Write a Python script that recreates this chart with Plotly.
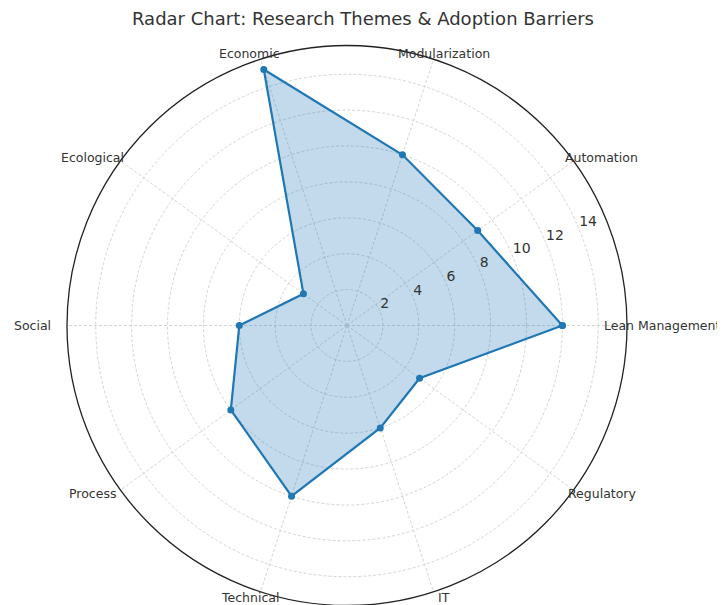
import math
import plotly.graph_objects as go

categories = ["Lean Management", "Automation", "Modularization", "Economic", "Ecological",
              "Social", "Process", "Technical", "IT", "Regulatory"]
values = [12, 9, 10, 15, 3, 6, 8, 10, 6, 5]
radial_ticks = [2, 4, 6, 8, 10, 12, 14]
radial_tick_labels = ["2", "4", "6", "8", "10", "12", "14"]

n = len(categories)
angles = [i * 360.0 / n for i in range(n)]
r_max = 15.6
radial_label_angle = 22.5

W, H = 725, 605
# plot-area geometry (div pixels; page has an 8px body margin)
R = 280
cx, cy = 339, 317.5
# label placement (ellipse radii in px, matplotlib-like placement around outer ring)
lab_rx, lab_ry = 315, 286

fig = go.Figure()

fig.add_trace(go.Scatterpolar(
    r=values + values[:1],
    theta=angles + angles[:1],
    mode="lines+markers",
    fill="toself",
    fillcolor="rgba(31,119,180,0.27)",
    line=dict(color="#1f77b4", width=2.2),
    marker=dict(color="#1f77b4", size=7),
    showlegend=False,
    hoverinfo="skip",
))

# radial tick labels
fig.add_trace(go.Scatterpolar(
    r=radial_ticks,
    theta=[radial_label_angle] * len(radial_ticks),
    mode="text",
    text=radial_tick_labels,
    textposition="top right",
    textfont=dict(family="DejaVu Sans", size=14, color="#333333"),
    showlegend=False,
    hoverinfo="skip",
))

# category labels around the outer ring
annotations = []
for cat, a in zip(categories, angles):
    rad = math.radians(a)
    px = cx + lab_rx * math.cos(rad)
    py = cy - lab_ry * math.sin(rad)
    annotations.append(dict(
        text=cat, xref="paper", yref="paper",
        x=px / W, y=1 - py / H,
        xanchor="center", yanchor="middle",
        showarrow=False,
        font=dict(family="DejaVu Sans", size=12.5, color="#333333"),
    ))

fig.update_layout(
    width=W, height=H,
    margin=dict(l=0, r=0, t=0, b=0),
    paper_bgcolor="white",
    annotations=annotations,
    title=dict(
        text="Radar Chart: Research Themes & Adoption Barriers",
        x=355 / W, xanchor="center",
        y=1 - 11 / H, yanchor="middle",
        font=dict(family="DejaVu Sans", size=18, color="#333333"),
    ),
    polar=dict(
        domain=dict(x=[(cx - R) / W, (cx + R) / W],
                    y=[(H - (cy + R)) / H, (H - (cy - R)) / H]),
        bgcolor="white",
        radialaxis=dict(
            range=[0, r_max],
            tickvals=radial_ticks,
            showticklabels=False,
            ticks="",
            showline=False,
            showgrid=True,
            gridcolor="#d4d4d4",
            griddash="3px,2px",
            gridwidth=0.8,
            angle=radial_label_angle,
        ),
        angularaxis=dict(
            thetaunit="degrees",
            rotation=0,
            direction="counterclockwise",
            tickvals=angles,
            showticklabels=False,
            ticks="",
            showline=True,
            linecolor="#222222",
            linewidth=1.3,
            showgrid=True,
            gridcolor="#d4d4d4",
            griddash="3px,2px",
            gridwidth=0.8,
        ),
    ),
)

fig.write_html("out.html")
